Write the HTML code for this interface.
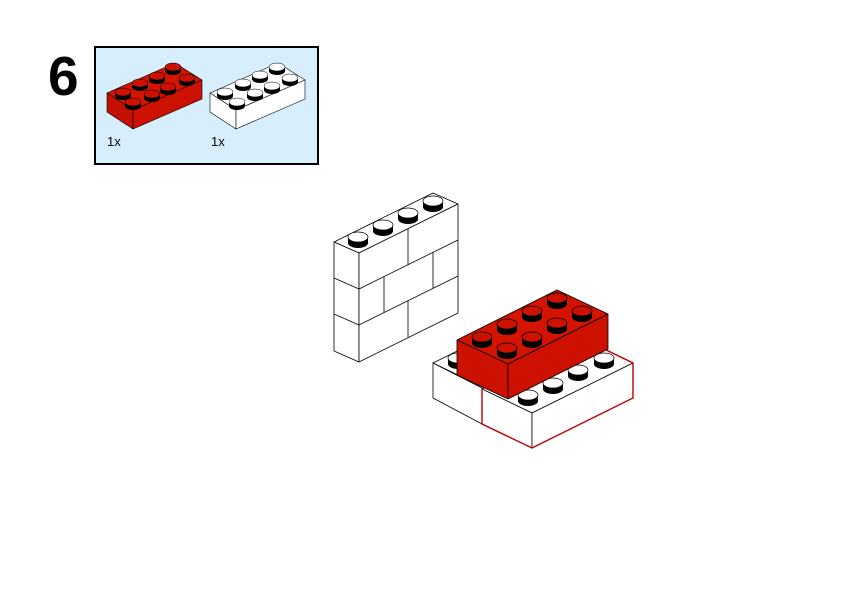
<!DOCTYPE html>
<html><head><style>
html,body{margin:0;padding:0;background:#fff;width:842px;height:596px;overflow:hidden}
svg{position:absolute;left:0;top:0}
text{font-family:"Liberation Sans",sans-serif}
</style></head><body>
<svg width="842" height="596" viewBox="0 0 842 596">
<defs>
<g id="sw"><path d="M-10,0 L-10,-6 A10,5 0 0 1 10,-6 L10,0 A10,5 0 0 1 -10,0Z" fill="#000"/><ellipse cx="0" cy="-6" rx="10" ry="5" fill="#fff" stroke="#000" stroke-width="0.7"/></g>
<g id="sr"><path d="M-10,0 L-10,-6 A10,5 0 0 1 10,-6 L10,0 A10,5 0 0 1 -10,0Z" fill="#000"/><ellipse cx="0" cy="-6" rx="10" ry="5" fill="#cc1100" stroke="#000" stroke-width="0.7"/></g>
<g id="ssw"><path d="M-8,0 L-8,-4 A8,4 0 0 1 8,-4 L8,0 A8,4 0 0 1 -8,0Z" fill="#000"/><ellipse cx="0" cy="-4" rx="8" ry="4" fill="#fff" stroke="#000" stroke-width="0.5"/></g>
<g id="ssr"><path d="M-8,0 L-8,-4 A8,4 0 0 1 8,-4 L8,0 A8,4 0 0 1 -8,0Z" fill="#000"/><ellipse cx="0" cy="-4" rx="8" ry="4" fill="#cc1100" stroke="#000" stroke-width="0.5"/></g>
</defs>

<text x="48" y="95" font-size="55" font-weight="bold">6</text>
<rect x="95" y="47" width="223" height="117" fill="#d7eefc" stroke="#000" stroke-width="2"/>

<!-- parts: red -->
<g stroke="#000" stroke-width="0.6" stroke-linejoin="round">
<polygon points="107,93 133,110 202,80 175,63" fill="#d41400"/>
<polygon points="107,93 133,110 133,129 107,112" fill="#c41000"/>
<polygon points="133,110 202,80 202,99 133,129" fill="#cc1100"/>
</g>
<use href="#ssr" x="123" y="96"/><use href="#ssr" x="140" y="87"/><use href="#ssr" x="157" y="80"/><use href="#ssr" x="173" y="71"/>
<use href="#ssr" x="133" y="106"/><use href="#ssr" x="152" y="98"/><use href="#ssr" x="168" y="91"/><use href="#ssr" x="187" y="82"/>
<!-- parts: white -->
<g stroke="#000" stroke-width="0.6" stroke-linejoin="round">
<polygon points="210,93 236,110 305,80 278,63" fill="#fff"/>
<polygon points="210,93 236,110 236,129 210,112" fill="#fff"/>
<polygon points="236,110 305,80 305,99 236,129" fill="#fff"/>
</g>
<use href="#ssw" x="225" y="96"/><use href="#ssw" x="243" y="87"/><use href="#ssw" x="260" y="79"/><use href="#ssw" x="277" y="71"/>
<use href="#ssw" x="237" y="106"/><use href="#ssw" x="255" y="97"/><use href="#ssw" x="272" y="90"/><use href="#ssw" x="290" y="82"/>
<text x="107" y="146" font-size="13">1x</text>
<text x="211" y="146" font-size="13">1x</text>

<!-- wall -->
<g stroke="#000" stroke-width="0.8" fill="#fff" stroke-linejoin="round">
<polygon points="334,242 359,253 458,204 433,193"/>
<polygon points="334,242 359,253 359,362 334,351"/>
<polygon points="359,253 458,204 458,313 359,362"/>
<path d="M334,278 L359,289 L458,240 M334,314 L359,325 L458,276 M408,229 L408,265 M384,277 L384,313 M433,252 L433,288 M408,301 L408,337" fill="none"/>
</g>
<use href="#sw" x="358" y="243"/><use href="#sw" x="383" y="231"/><use href="#sw" x="408" y="219"/><use href="#sw" x="433" y="207"/>

<!-- back-left white brick -->
<g stroke="#000" stroke-width="0.8" fill="#fff" stroke-linejoin="round">
<polygon points="433,363 483,387 584,337 534,313"/>
<polygon points="433,363 482,388 482,424 433,398"/>
</g>
<use href="#sw" x="458" y="364"/>

<!-- front white brick -->
<g stroke="#000" stroke-width="0.8" fill="#fff" stroke-linejoin="round">
<polygon points="482,389 532,413 633,363 583,339"/>
<polygon points="482,389 532,413 532,448 482,424"/>
<polygon points="532,413 633,363 633,398 532,448"/>
</g>
<path d="M482,389 L482,424 L532,448 L633,398 L633,363 L600,347" fill="none" stroke="#c00000" stroke-width="1.4"/>
<use href="#sw" x="528" y="401"/><use href="#sw" x="553" y="389"/><use href="#sw" x="578" y="376"/><use href="#sw" x="604" y="364"/>

<!-- red brick -->
<g stroke="#000" stroke-width="0.8" stroke-linejoin="round">
<polygon points="457,340 508,364 608,314 557,290" fill="#d41400"/>
<polygon points="457,340 508,364 508,399 457,375" fill="#cc1100"/>
<polygon points="508,364 608,314 608,349 508,399" fill="#cc1100"/>
</g>
<use href="#sr" x="482" y="343"/><use href="#sr" x="507" y="330"/><use href="#sr" x="532" y="317"/><use href="#sr" x="557" y="304"/>
<use href="#sr" x="507" y="354"/><use href="#sr" x="532" y="343"/><use href="#sr" x="557" y="329"/><use href="#sr" x="582" y="317"/>
</svg>
</body></html>
